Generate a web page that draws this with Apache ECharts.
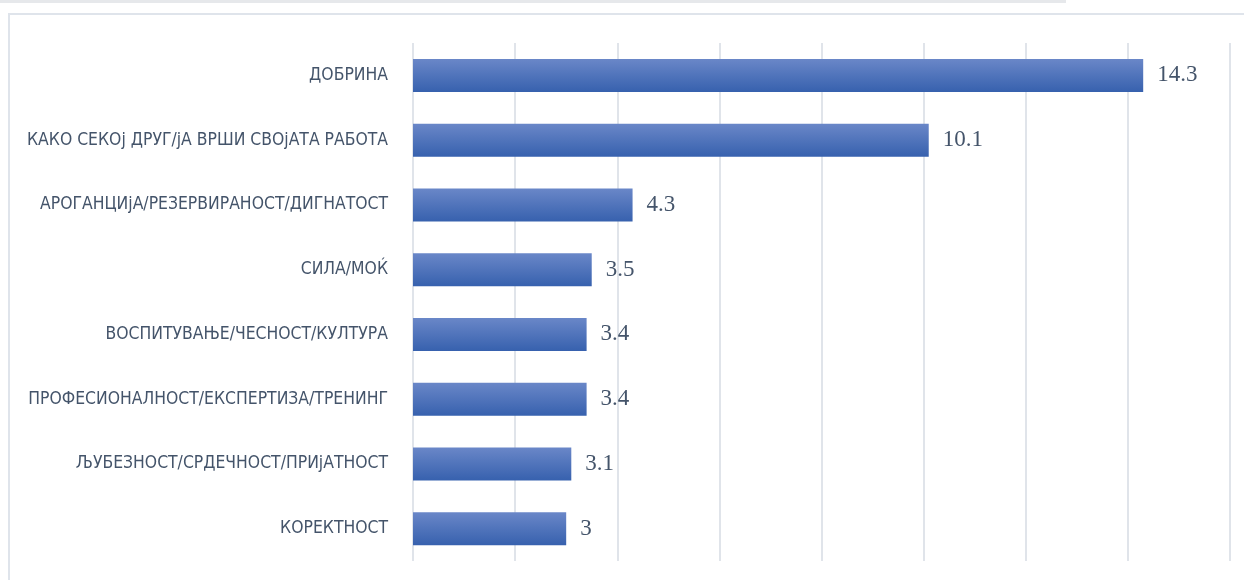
<!DOCTYPE html>
<html>
<head>
<meta charset="utf-8">
<script src="https://cdn.jsdelivr.net/npm/echarts@6/dist/echarts.min.js"></script>
<style>
  html, body { margin: 0; padding: 0; background: #fff; }
  #main { width: 1244px; height: 580px; }
</style>
</head>
<body>
<div id="main"></div>
<script>
  // categories top to bottom
  var categories = [
    'ДОБРИНА',
    'КАКО СЕКОј ДРУГ/јА ВРШИ СВОјАТА РАБОТА',
    'АРОГАНЦИјА/РЕЗЕРВИРАНОСТ/ДИГНАТОСТ',
    'СИЛА/МОЌ',
    'ВОСПИТУВАЊЕ/ЧЕСНОСТ/КУЛТУРА',
    'ПРОФЕСИОНАЛНОСТ/ЕКСПЕРТИЗА/ТРЕНИНГ',
    'ЉУБЕЗНОСТ/СРДЕЧНОСТ/ПРИјАТНОСТ',
    'КОРЕКТНОСТ'
  ];
  var values = [14.3, 10.1, 4.3, 3.5, 3.4, 3.4, 3.1, 3];

  var chart = echarts.init(document.getElementById('main'));
  chart.setOption({
    animation: false,
    backgroundColor: '#fff',
    graphic: [
      { type: 'rect', shape: { x: 0, y: 0, width: 1066, height: 3 }, style: { fill: '#e6e8eb' } },
      { type: 'polyline', shape: { points: [[9, 580], [9, 14], [1244, 14]] },
        style: { stroke: '#dfe4eb', lineWidth: 2, fill: null } }
    ],
    grid: { left: 413, right: 14, top: 43, bottom: 19 },
    xAxis: {
      type: 'value',
      min: 0, max: 16, interval: 2,
      axisLabel: { show: false },
      axisLine: { show: false },
      axisTick: { show: false },
      splitLine: { lineStyle: { color: '#e0e4ea', width: 2 } }
    },
    yAxis: {
      type: 'category',
      inverse: true,
      data: categories,
      axisLine: { show: false },
      axisTick: { show: false },
      axisLabel: {
        margin: 25,
        color: '#44546a',
        fontSize: 17.4,
        fontFamily: "'Liberation Sans Narrow', 'DejaVu Sans Condensed', sans-serif"
      }
    },
    series: [{
      type: 'bar',
      data: values,
      barWidth: 33,
      itemStyle: {
        color: new echarts.graphic.LinearGradient(0, 0, 0, 1, [
          { offset: 0, color: '#6a87c8' },
          { offset: 1, color: '#3761ae' }
        ])
      },
      label: {
        show: true,
        position: 'right',
        distance: 14,
        color: '#44546a',
        fontSize: 23,
        fontFamily: "'Liberation Serif', serif"
      }
    }]
  });
</script>
</body>
</html>
